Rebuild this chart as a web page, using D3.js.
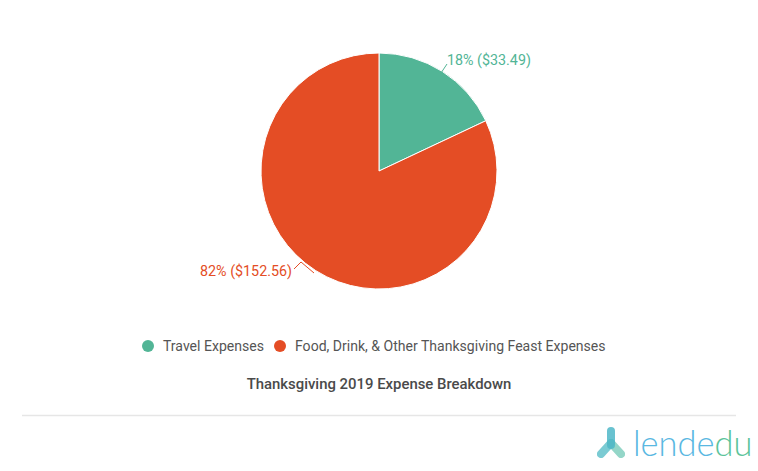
<!DOCTYPE html>
<html><head><meta charset="utf-8">
<script src="https://cdn.jsdelivr.net/npm/d3@7"></script>
<style>body{margin:0;background:#fff;font-family:Roboto,sans-serif}</style>
</head><body>
<svg id="c" width="758" height="471"></svg>
<script>
const categories = ["Travel Expenses", "Food, Drink, & Other Thanksgiving Feast Expenses"];
const values = [33.49, 152.56];
const percentLabels = ["18%", "82%"];
const colors = ["#52B596", "#E44D25"];
const chartTitle = "Thanksgiving 2019 Expense Breakdown";

const svg = d3.select("#c");
const cx = 379, cy = 171, r = 118;
const pie = d3.pie().sort(null).value(d => d)(values);
const arc = d3.arc().innerRadius(0).outerRadius(r);
const g = svg.append("g").attr("transform", `translate(${cx},${cy})`);
g.selectAll("path").data(pie).join("path")
  .attr("d", arc).attr("fill", (d,i) => colors[i])
  .attr("stroke", "#fff").attr("stroke-width", 1);

// labels with leader lines
const labelDefs = [
  {pts: [[441-cx, 73-cy],[447-cx,64-cy]], tx: 447-cx, ty: 65-cy, anchor: "start"},
  {pts: [[314-cx, 273-cy],[301-cx,262-cy],[294-cx,269-cy]], tx: 292-cx, ty: 276-cy, anchor: "end"}
];
pie.forEach((d,i) => {
  const ld = labelDefs[i];
  g.append("polyline").attr("points", ld.pts.map(p => p.join(",")).join(" "))
    .attr("fill","none").attr("stroke", colors[i]).attr("stroke-width", 1);
  g.append("text").attr("x", ld.tx).attr("y", ld.ty).attr("text-anchor", ld.anchor)
    .attr("fill", colors[i]).attr("font-size", 14.3)
    .text(`${percentLabels[i]} ($${d3.format(".2f")(values[i])})`);
});

// legend
const leg = svg.append("g");
const legX = [148, 280];
categories.forEach((c,i) => {
  leg.append("circle").attr("cx", legX[i]).attr("cy", 346).attr("r", 6).attr("fill", colors[i]);
  leg.append("text").attr("x", legX[i]+15).attr("y", 351).attr("font-size", 14.05)
    .attr("fill", "#555").text(c);
});

svg.append("text").attr("x", 379).attr("y", 389).attr("text-anchor","middle")
  .attr("font-size", 14.9).attr("font-weight", 500).attr("fill", "#4a4a4a").text(chartTitle);

svg.append("line").attr("x1", 22).attr("x2", 736).attr("y1", 415.5).attr("y2", 415.5)
  .attr("stroke", "#e6e6e6").attr("stroke-width", 1.5);

// logo
const logo = svg.append("g");
logo.append("path").attr("d","M601,454 L611,443").attr("stroke","#5BBFC9").attr("stroke-width",8).attr("stroke-linecap","round").attr("opacity",0.8);
logo.append("path").attr("d","M611,443 L621,454").attr("stroke","#7ACDBB").attr("stroke-width",8).attr("stroke-linecap","round").attr("opacity",0.8);
logo.append("path").attr("d","M611,431 L611,445").attr("stroke","#4FB8C8").attr("stroke-width",8).attr("stroke-linecap","round").attr("opacity",0.85);
const lt = logo.append("text").attr("x", 633).attr("y", 456).attr("font-size", 34.5).attr("font-weight", 300).attr("font-family","Lato, sans-serif");
lt.append("tspan").attr("fill","#5AB8E2").text("lende");
lt.append("tspan").attr("fill","#5CC49A").text("du");
</script>
</body></html>
